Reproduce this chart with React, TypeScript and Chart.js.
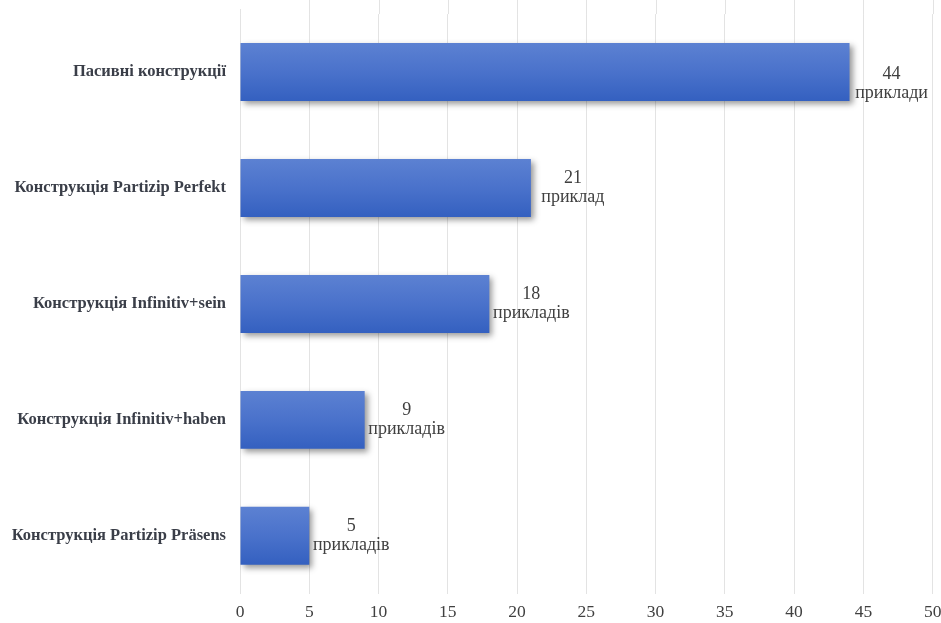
import React, { useEffect, useRef } from "react";
import { Chart, registerables } from "chart.js";

Chart.register(...registerables);

const categories = [
  "Пасивні конструкції",
  "Конструкція Partizip Perfekt",
  "Конструкція Infinitiv+sein",
  "Конструкція Infinitiv+haben",
  "Конструкція Partizip Präsens",
];
const values = [44, 21, 18, 9, 5];
const valueWords = ["приклади", "приклад", "прикладів", "прикладів", "прикладів"];
const xTicks = [0, 5, 10, 15, 20, 25, 30, 35, 40, 45, 50];

const SERIF = "'Liberation Serif', 'DejaVu Serif', serif";

export default function App() {
  const ref = useRef<HTMLCanvasElement | null>(null);

  useEffect(() => {
    const canvas = ref.current;
    if (!canvas) return;

    const gridExtend = {
      id: "gridExtend",
      beforeDatasetsDraw(chart: any) {
        const { ctx, chartArea, scales } = chart;
        const xs = scales.x;
        ctx.save();
        ctx.strokeStyle = "#e3e3e3";
        ctx.lineWidth = 1;
        xTicks.forEach((t, i) => {
          const px = Math.round(xs.getPixelForValue(t)) + 0.5;
          ctx.beginPath();
          ctx.moveTo(px, i === 0 ? 9 : 0);
          ctx.lineTo(px, chartArea.top);
          ctx.stroke();
        });
        ctx.restore();
      },
    };

    const shadow = {
      id: "barShadow",
      beforeDatasetsDraw(chart: any) {
        const ctx = chart.ctx;
        ctx.save();
        ctx.shadowColor = "rgba(0,0,0,0.4)";
        ctx.shadowBlur = 6;
        ctx.shadowOffsetX = 3;
        ctx.shadowOffsetY = 3;
      },
      afterDatasetsDraw(chart: any) {
        chart.ctx.restore();
      },
    };

    const valueLabels = {
      id: "valueLabels",
      afterDatasetsDraw(chart: any) {
        const { ctx } = chart;
        const meta = chart.getDatasetMeta(0);
        ctx.save();
        ctx.fillStyle = "#404040";
        ctx.font = `18px ${SERIF}`;
        ctx.textAlign = "center";
        ctx.textBaseline = "middle";
        meta.data.forEach((bar: any, i: number) => {
          const cx = bar.x + 42;
          const dy = i === 0 ? 12 : 0;
          ctx.fillText(String(values[i]), cx, bar.y - 10 + dy);
          ctx.fillText(valueWords[i], cx, bar.y + 9 + dy);
        });
        ctx.restore();
      },
    };

    const chart = new Chart(canvas, {
      type: "bar",
      data: {
        labels: categories,
        datasets: [
          {
            data: values,
            borderWidth: 0,
            barPercentage: 0.5,
            categoryPercentage: 1,
            backgroundColor: (c: any) => {
              const ch = c.chart;
              const ys = ch.scales && ch.scales.y;
              if (!ch.chartArea || !ys) return "#4672c8";
              const cy = ys.getPixelForValue(c.dataIndex);
              const h = (ch.chartArea.bottom - ch.chartArea.top) / categories.length * 0.5;
              const g = ch.ctx.createLinearGradient(0, cy - h / 2, 0, cy + h / 2);
              g.addColorStop(0, "#5c81d2");
              g.addColorStop(0.5, "#4a72cb");
              g.addColorStop(1, "#3460c0");
              return g;
            },
          },
        ],
      },
      options: {
        indexAxis: "y",
        responsive: false,
        animation: false,
        events: [],
        layout: { padding: { top: 2, right: 15, left: 0, bottom: -9 } },
        plugins: {
          legend: { display: false },
          tooltip: { enabled: false },
          title: { display: false },
        },
        scales: {
          x: {
            min: 0,
            max: 50,
            border: { display: false },
            grid: { color: "#e3e3e3", drawTicks: false },
            ticks: {
              stepSize: 5,
              padding: 8.6,
              color: "#404040",
              font: { family: SERIF, size: 17.5 },
            },
          },
          y: {
            border: { display: false },
            grid: { display: false, drawTicks: false },
            afterFit: (s: any) => {
              s.width = 240;
            },
            ticks: {
              padding: 14,
              color: "#3a3e48",
              font: { family: SERIF, size: 16.5, weight: "bold", lineHeight: 0.01 },
            },
          },
        },
      },
      plugins: [gridExtend, shadow, valueLabels],
    } as any);

    return () => chart.destroy();
  }, []);

  return (
    <div
      style={{
        position: "fixed",
        left: 0,
        top: 0,
        width: 941,
        height: 623,
        overflow: "hidden",
        background: "#ffffff",
      }}
    >
      <canvas ref={ref} width={950} height={623} style={{ display: "block" }} />
    </div>
  );
}
